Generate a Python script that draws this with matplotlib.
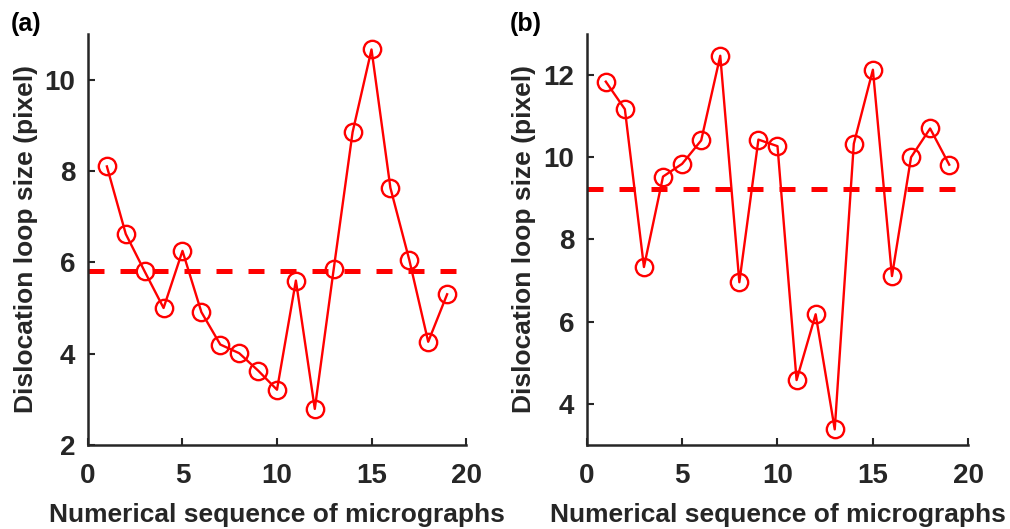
#!/usr/bin/env python3
"""
Dislocation loop size per micrograph, two panels (a) and (b).
"""

import numpy as np
import matplotlib.pyplot as plt

plt.rcParams['font.family'] = ['Liberation Sans', 'DejaVu Sans']
plt.rcParams['font.weight'] = 'bold'

# Data
seq = np.arange(1, 20)
size_a = [8.10, 6.62, 5.80, 5.00, 6.25, 4.91, 4.20, 4.01, 3.63, 3.21,
          5.60, 2.79, 5.85, 8.85, 10.66, 7.63, 6.05, 4.26, 5.30]
mean_a = 5.82
size_b = [11.84, 11.17, 7.33, 9.53, 9.84, 10.41, 12.47, 6.96, 10.43, 10.27,
          4.58, 6.18, 3.38, 10.33, 12.13, 7.11, 10.00, 10.70, 9.82]
mean_b = 9.23

TEXT = '#262626'
RED = '#FF0000'

fig = plt.figure(figsize=(10.1, 5.29), dpi=100)
ax_a = fig.add_axes([0.0871, 0.1588, 0.3743, 0.777])
ax_b = fig.add_axes([0.5809, 0.1588, 0.3778, 0.777])


def draw_panel(ax, y, mean, ylim, yticks, tag, tag_x):
    ax.plot(seq, y, '-o', color=RED, lw=1.7, ms=12.5, mfc='none',
            mec=RED, mew=1.7, zorder=3)
    ax.plot([0, 20], [mean, mean], color=RED, lw=3.6, dashes=(3.2, 3.2),
            zorder=2)
    ax.set_xlim(0, 20)
    ax.set_ylim(*ylim)
    ax.set_xticks([0, 5, 10, 15, 20])
    ax.set_yticks(yticks)
    for s in ['top', 'right']:
        ax.spines[s].set_visible(False)
    for s in ['left', 'bottom']:
        ax.spines[s].set_color(TEXT)
        ax.spines[s].set_linewidth(1.8)
    ax.tick_params(direction='in', length=5, width=1.5, colors=TEXT,
                   labelsize=20)
    ax.tick_params(axis='y', pad=9)
    ax.tick_params(axis='x', pad=13)
    for lab in ax.get_xticklabels() + ax.get_yticklabels():
        lab.set_fontweight('bold')
    ax.set_xlabel('Numerical sequence of micrographs', fontsize=19,
                  fontweight='bold', color=TEXT, labelpad=10)
    ax.set_ylabel('Dislocation loop size (pixel)', fontsize=19,
                  fontweight='bold', color=TEXT, labelpad=5)
    fig.text(tag_x, 0.955, tag, fontsize=18, fontweight='bold',
             color='black', ha='left', va='center')


draw_panel(ax_a, size_a, mean_a, (2, 11), [2, 4, 6, 8, 10], '(a)', 0.011)
draw_panel(ax_b, size_b, mean_b, (3, 13), [4, 6, 8, 10, 12], '(b)', 0.505)

plt.savefig('out.png', dpi=100, facecolor='white')
print("Saved: out.png")
